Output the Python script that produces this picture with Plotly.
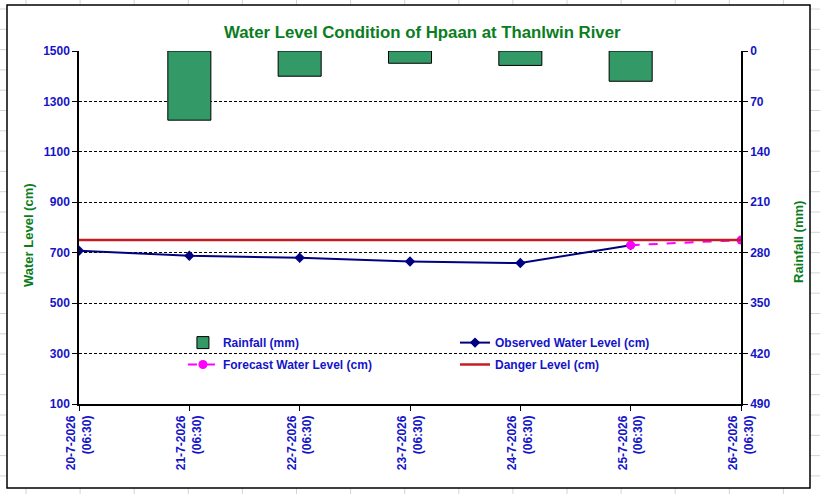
import plotly.graph_objects as go

# data
dates = ["20-7-2026<br>(06:30)", "21-7-2026<br>(06:30)", "22-7-2026<br>(06:30)",
         "23-7-2026<br>(06:30)", "24-7-2026<br>(06:30)", "25-7-2026<br>(06:30)",
         "26-7-2026<br>(06:30)"]
rain_dates = dates[1:6]
rainfall = [96, 35, 17, 20, 42]
observed = [708, 688, 680, 665, 659, 730, None]
forecast = [None, None, None, None, None, 730, 750]
danger = [750] * len(dates)

blue = "#1414C8"
green = "#0A7D1E"
bold_blue = dict(family="Arial", size=12, color=blue, weight="bold")

fig = go.Figure()

fig.add_trace(go.Bar(
    x=rain_dates, y=rainfall, name="Rainfall (mm)", yaxis="y2", width=0.39,
    marker=dict(color="#339966", line=dict(color="black", width=1)),
    legend="legend", showlegend=True,
))
fig.add_trace(go.Scatter(
    x=dates, y=observed, name="Observed Water Level (cm)", mode="lines+markers",
    line=dict(color="#000080", width=2), marker=dict(symbol="diamond", size=8),
    legend="legend2", showlegend=True,
))
fig.add_trace(go.Scatter(
    x=dates, y=forecast, name="Forecast Water Level (cm)", mode="lines+markers",
    line=dict(color="#FF00FF", width=2, dash="dash"), marker=dict(symbol="circle", size=9),
    legend="legend3", showlegend=True,
))
fig.add_trace(go.Scatter(
    x=dates, y=danger, name="Danger Level (cm)", mode="lines",
    line=dict(color="#C41E24", width=2.5),
    legend="legend4", showlegend=True,
))

# spreadsheet cell lines behind the chart
shapes = []
for i in range(16):
    px_x = 26 + i * 54.1
    shapes.append(dict(type="line", xref="paper", yref="paper",
                       x0=(px_x - 79) / 662, x1=(px_x - 79) / 662, y0=-0.26, y1=1.16,
                       line=dict(color="#D4D4D4", width=1), layer="below"))
for j in range(26):
    px_y = 9 + j * 20.3
    shapes.append(dict(type="line", xref="paper", yref="paper",
                       x0=-0.13, x1=1.13, y0=(404 - px_y) / 353, y1=(404 - px_y) / 353,
                       line=dict(color="#D4D4D4", width=1), layer="below"))
# white chart area with black border
shapes.append(dict(type="rect", xref="paper", yref="paper",
                   x0=(7 - 79) / 662, x1=(810 - 79) / 662, y0=(404 - 488) / 353, y1=(404 - 5) / 353,
                   fillcolor="white", line=dict(color="black", width=1.5), layer="below"))

legend_style = dict(xanchor="left", yanchor="top", bgcolor="rgba(0,0,0,0)",
                    font=bold_blue, tracegroupgap=0)

title_font = dict(family="Arial", size=13, color=green, weight="bold")

fig.update_layout(
    width=820, height=494,
    margin=dict(l=79, r=79, t=51, b=90),
    paper_bgcolor="white",
    plot_bgcolor="#CCFFFF",
    showlegend=True,
    font=dict(family="Arial", size=12, color=blue),
    title=dict(text="<b>Water Level Condition of Hpaan at Thanlwin River</b>",
               x=0.515, xanchor="center", y=0.935, yanchor="middle",
               font=dict(family="Arial", size=16.8, color=green)),
    xaxis=dict(type="category", categoryorder="array", categoryarray=dates,
               range=[0, 6], showgrid=False, automargin=False,
               showline=True, linecolor="black", linewidth=1.5,
               ticks="outside", ticklen=5, tickcolor="black",
               tickangle=-90, tickfont=bold_blue),
    yaxis=dict(range=[100, 1500], tickvals=[100, 300, 500, 700, 900, 1100, 1300, 1500],
               showline=True, linecolor="black", linewidth=1.5, automargin=False,
               ticks="outside", ticklen=5, tickcolor="black",
               gridcolor="black", griddash="3px,2px", gridwidth=1, zeroline=False,
               tickfont=bold_blue),
    yaxis2=dict(range=[490, 0], tickvals=[0, 70, 140, 210, 280, 350, 420, 490],
                overlaying="y", side="right", showgrid=False, zeroline=False,
                showline=True, linecolor="black", linewidth=1.5, automargin=False,
                ticks="outside", ticklen=5, tickcolor="black",
                tickfont=bold_blue),
    annotations=[
        dict(text="Water Level (cm)", textangle=-90, showarrow=False,
             xref="paper", yref="paper", x=(28 - 79) / 662, y=(404 - 235) / 353,
             xanchor="center", yanchor="middle", font=title_font),
        dict(text="Rainfall (mm)", textangle=-90, showarrow=False,
             xref="paper", yref="paper", x=(798 - 79) / 662, y=(404 - 242) / 353,
             xanchor="center", yanchor="middle", font=title_font),
    ],
    legend=dict(x=0.157, y=0.215, **legend_style),
    legend2=dict(x=0.568, y=0.215, **legend_style),
    legend3=dict(x=0.157, y=0.153, **legend_style),
    legend4=dict(x=0.568, y=0.153, **legend_style),
    shapes=shapes,
)

fig.write_html("out.html", config={"displayModeBar": False},
               post_script="document.body.style.margin = '0';")
